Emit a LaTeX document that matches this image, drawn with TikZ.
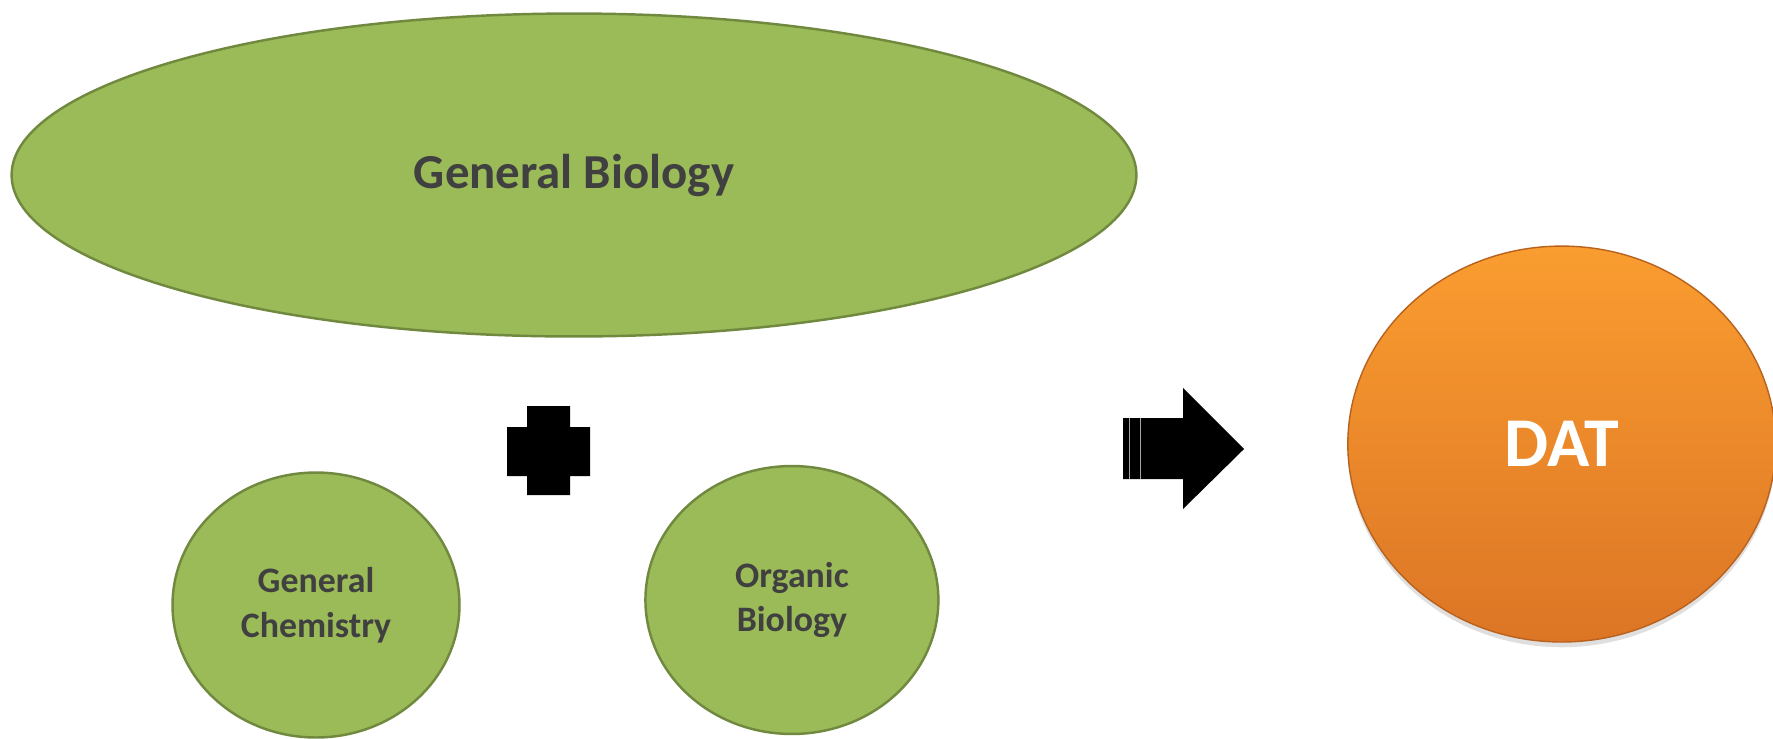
\documentclass[tikz,border=0pt]{standalone}
\usepackage{fontspec}
\setmainfont{Carlito}
\usetikzlibrary{shapes.geometric,shadows}
\usetikzlibrary{positioning}
\definecolor{subjgreen}{HTML}{9BBB59}
\definecolor{subjline}{HTML}{71893F}
\definecolor{subjtext}{HTML}{404040}
\definecolor{examtop}{HTML}{FA9D30}
\definecolor{exambottom}{HTML}{DC7525}
\definecolor{examline}{HTML}{B8621E}
\tikzset{
    course/.style={
           ellipse,
           draw=subjline, line width=1.4pt,
           fill=subjgreen,
           text=subjtext,
           font=\bfseries,
           align=center,
           inner sep=0pt,
           },
    exam/.style={
           ellipse,
           draw=examline, line width=0.8pt,
           top color=examtop, bottom color=exambottom,
           drop shadow={shadow xshift=0pt, shadow yshift=-3pt, opacity=.25},
           text=white,
           font=\bfseries,
           inner sep=0pt,
           },
}

\begin{document}
\begin{tikzpicture}[x=0.02cm,y=-0.02cm]
 \useasboundingbox (0,0) rectangle (1773,738);

 % big course on top
 \node[course,
  font=\fontsize{27.8}{33}\selectfont\bfseries,
  minimum width=22.5cm,
  minimum height=6.46cm] (Gen Biology) at (574,175)
  {General Biology};

 % the two smaller courses
 \node[course,
  font=\fontsize{20.4}{25.5}\selectfont\bfseries,
  minimum width=5.74cm,
  minimum height=5.3cm] (Gen Chemistry) at (316,605)
  {General\\ Chemistry};

 \node[course,
  font=\fontsize{20.4}{25.5}\selectfont\bfseries,
  right of=Gen Chemistry,
  node distance=9.52cm,
  yshift=0.1cm,
  anchor=center,
  minimum width=5.86cm,
  minimum height=5.36cm] (Org Biology)
  {Organic\\ Biology};

 % the test they lead to
 \node[exam,
  font=\fontsize{39.8}{48}\selectfont\bfseries,
  right of=Org Biology,
  node distance=15.4cm,
  yshift=3.12cm,
  anchor=center,
  minimum width=8.56cm,
  minimum height=7.92cm] (DAT)
  {DAT};

 % plus sign between the courses
 \path[fill=black] (527,406) -- (570,406) -- (570,427) -- (590,427) -- (590,476)
  -- (570,476) -- (570,495) -- (527,495) -- (527,476) -- (507,476) -- (507,427)
  -- (527,427) -- cycle;

 % striped arrow towards the DAT
 \path[fill=black] (1123,418) -- (1183,418) -- (1183,388) -- (1244,449)
  -- (1183,509) -- (1183,479) -- (1123,479) -- cycle;
 \path[draw=gray!70, line width=0.4pt] (1129,418) -- (1129,479)
  (1140,418) -- (1140,479);
\end{tikzpicture}
\end{document}
